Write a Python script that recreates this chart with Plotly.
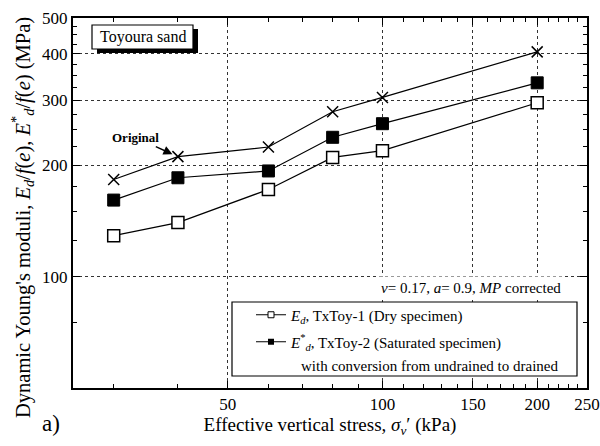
import plotly.graph_objects as go
import numpy as np

# ---- data ----
stress = [30, 40, 60, 80, 100, 200]
E_dry = [129, 140, 172, 210, 219, 295]          # E_d, TxToy-1 (open squares)
E_sat = [161, 185, 193, 238, 259, 334]          # E*_d, TxToy-2 (filled squares)
E_orig = [183, 211, 224, 279, 305, 405]         # Original (crosses)

x_ticks = [50, 100, 150, 200, 250]
x_minor = [30, 40, 60, 70, 80, 90, 110, 120, 130, 140, 160, 170, 180, 190, 210, 220, 230, 240]
y_ticks = [100, 200, 300, 400, 500]
y_minor = [75, 125, 150, 175, 225, 250, 275, 325, 350, 375, 425, 450, 475]

FONT = "Liberation Serif, Times New Roman, serif"
W, H = 600, 446
L, R, T, B = 73, 13, 18, 58
PW, PH = W - L - R, H - T - B


def px(xp):
    return (xp - L) / PW


def py(yp):
    return (H - B - yp) / PH


fig = go.Figure()

line = dict(color="black", width=1.2)
fig.add_trace(go.Scatter(x=stress, y=E_orig, mode="lines+markers", line=line,
                         marker=dict(symbol="x-thin", size=11, line=dict(color="black", width=1.5)),
                         showlegend=False))
fig.add_trace(go.Scatter(x=stress, y=E_sat, mode="lines+markers", line=line,
                         marker=dict(symbol="square", size=12, color="black",
                                     line=dict(color="black", width=1)),
                         showlegend=False))
fig.add_trace(go.Scatter(x=stress, y=E_dry, mode="lines+markers", line=line,
                         marker=dict(symbol="square", size=12, color="white",
                                     line=dict(color="black", width=1.5)),
                         showlegend=False))

# legend-only entries
fig.add_trace(go.Scatter(x=[None], y=[None], mode="lines+markers", line=line,
                         marker=dict(symbol="square", size=6, color="white",
                                     line=dict(color="black", width=1)),
                         name="<i>E</i><sub><i>d</i></sub>, TxToy-1 (Dry specimen)",
                         legend="legend"))
fig.add_trace(go.Scatter(x=[None], y=[None], mode="lines+markers", line=line,
                         marker=dict(symbol="square", size=6, color="black"),
                         name="<i>E</i><sup>*</sup><sub><i>d</i></sub>, TxToy-2 (Saturated specimen)",
                         legend="legend2"))

axis_common = dict(
    showline=True, linecolor="black", linewidth=2, mirror="allticks",
    ticks="inside", ticklen=7, tickwidth=1.2, tickcolor="black",
    showgrid=True, gridcolor="#333", gridwidth=1, griddash="dot",
    tickfont=dict(family=FONT, size=17, color="black"),
    zeroline=False, automargin=False,
)

fig.update_xaxes(
    type="log", range=[np.log10(25), np.log10(250)],
    tickmode="array", tickvals=x_ticks, ticktext=[str(v) for v in x_ticks],
    minor=dict(tickmode="array", tickvals=x_minor, ticks="inside", ticklen=4,
               tickwidth=1.2, tickcolor="black", showgrid=False),
    title=dict(text="Effective vertical stress, <i>σ</i><sub><i>v</i></sub>′ (kPa)",
               font=dict(family=FONT, size=19, color="black"), standoff=4),
    **axis_common,
)
fig.update_yaxes(
    type="log", range=[np.log10(50), np.log10(500)],
    tickmode="array", tickvals=y_ticks, ticktext=[str(v) for v in y_ticks],
    minor=dict(tickmode="array", tickvals=y_minor, ticks="inside", ticklen=4,
               tickwidth=1.2, tickcolor="black", showgrid=False),
    **axis_common,
)

shapes = []
# Toyoura sand box shadow + box
shapes.append(dict(type="rect", xref="paper", yref="paper",
                   x0=px(97), x1=px(198), y0=py(53), y1=py(29),
                   fillcolor="black", line=dict(width=0), layer="above"))
shapes.append(dict(type="rect", xref="paper", yref="paper",
                   x0=px(92), x1=px(193), y0=py(49), y1=py(25),
                   fillcolor="white", line=dict(color="black", width=1.2), layer="above"))
# legend box
shapes.append(dict(type="rect", xref="paper", yref="paper",
                   x0=px(232), x1=px(577), y0=py(376), y1=py(302),
                   fillcolor="white", line=dict(color="black", width=1.2), layer="above"))

annotations = [
    dict(text="Dynamic Young's moduli, <i>E</i><sub><i>d</i></sub>/<i>f</i>(<i>e</i>), "
              "<i>E</i><sup>*</sup><sub><i>d</i></sub>/<i>f</i>(<i>e</i>) (MPa)",
         x=px(22), y=py(218), xref="paper", yref="paper", textangle=-90,
         xanchor="center", yanchor="middle", showarrow=False,
         font=dict(family=FONT, size=20.5, color="black")),
    dict(text="Toyoura sand", x=px(142.5), y=py(37), xref="paper", yref="paper",
         xanchor="center", yanchor="middle",
         showarrow=False, font=dict(family=FONT, size=16, color="black")),
    dict(text="<b>Original</b>", x=np.log10(40), y=np.log10(211), xref="x", yref="y",
         ax=-42, ay=-19, showarrow=True, arrowhead=2, arrowsize=1.2, arrowwidth=1.5,
         arrowcolor="black", standoff=6,
         font=dict(family=FONT, size=13, color="black")),
    dict(text="<i>ν</i>= 0.17, <i>a</i>= 0.9, <i>MP</i> corrected",
         x=px(471), y=py(288), xref="paper", yref="paper", showarrow=False,
         xanchor="center", yanchor="middle",
         bgcolor="white", borderpad=3,
         font=dict(family=FONT, size=15, color="black")),
    dict(text="with conversion from undrained to drained",
         x=px(299), y=py(366), xref="paper", yref="paper", showarrow=False,
         xanchor="left", yanchor="middle", font=dict(family=FONT, size=15, color="black")),
    dict(text="a)", x=px(51), y=py(424), xref="paper", yref="paper", showarrow=False,
         xanchor="center", yanchor="middle",
         font=dict(family=FONT, size=23, color="black")),
]

leg_common = dict(bgcolor="rgba(0,0,0,0)", borderwidth=0, xanchor="left", yanchor="middle",
                  font=dict(family=FONT, size=15, color="black"), itemwidth=30,
                  tracegroupgap=0)

fig.update_layout(
    width=W, height=H,
    margin=dict(l=L, r=R, t=T, b=B),
    plot_bgcolor="white", paper_bgcolor="white",
    shapes=shapes, annotations=annotations,
    legend=dict(x=px(251), y=py(315), **leg_common),
    legend2=dict(x=px(251), y=py(342), **leg_common),
    font=dict(family=FONT, color="black"),
)

fig.write_html("out.html")
